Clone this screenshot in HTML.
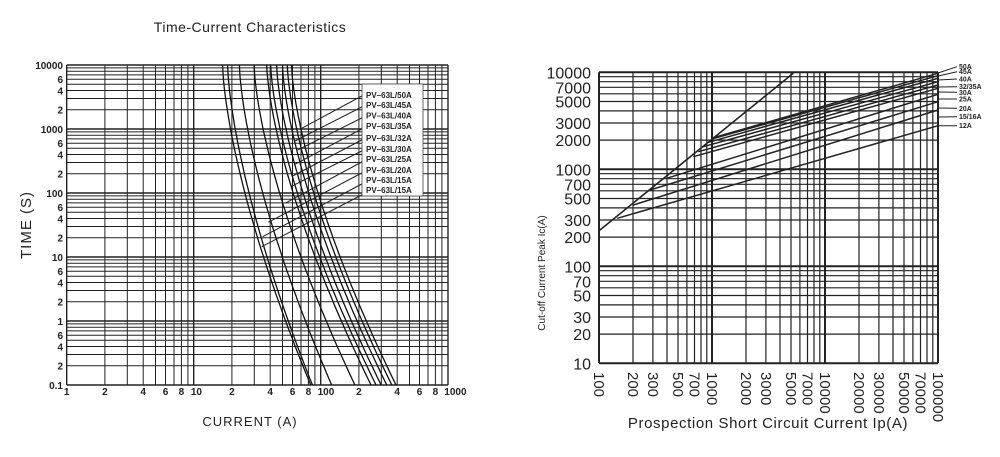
<!DOCTYPE html>
<html><head><meta charset="utf-8"><style>
html,body{margin:0;padding:0;background:#fff;}
svg{display:block;font-family:"Liberation Sans",sans-serif;}
</style></head><body>
<svg id="s" width="1000" height="457" viewBox="0 0 1000 457" xmlns="http://www.w3.org/2000/svg">
<rect width="1000" height="457" fill="#fff"/>
<text x="250" y="32" font-size="14" text-anchor="middle" fill="#222" letter-spacing="0.5">Time-Current Characteristics</text>
<text x="250" y="426" font-size="13" text-anchor="middle" fill="#222" letter-spacing="1">CURRENT (A)</text>
<text transform="translate(31,225) rotate(-90)" font-size="15" text-anchor="middle" fill="#222" letter-spacing="1">TIME (S)</text>
<text transform="translate(545,273) rotate(-90)" font-size="10" text-anchor="middle" fill="#222">Cut-off Current Peak Ic(A)</text>
<text x="768" y="428" font-size="15" text-anchor="middle" fill="#222" letter-spacing="0.6">Prospection Short Circuit Current Ip(A)</text>
<g id="g"></g>
</svg>
<script>
var g=document.getElementById('g'),h='';
function L(x1,y1,x2,y2,w){h+='<line x1="'+x1.toFixed(1)+'" y1="'+y1.toFixed(1)+'" x2="'+x2.toFixed(1)+'" y2="'+y2.toFixed(1)+'" stroke="#222" stroke-width="'+(w||1)+'"/>';}
function T(x,y,s,fs,a,extra){h+='<text x="'+x+'" y="'+y+'" font-size="'+fs+'" text-anchor="'+(a||'middle')+'" fill="#222" '+(extra||'')+'>'+s+'</text>';}
// LEFT chart
var x0=66.7,px=127,y0=65,py=64;
function LX(i){return x0+px*Math.log10(i);} function LY(t){return y0+py*(4-Math.log10(t));}
for(var d=-1;d<4;d++)for(var m=1;m<10;m++){var v=m*Math.pow(10,d);L(x0,LY(v),448,LY(v),m==1?1.4:1);}
L(x0,LY(10000),448,LY(10000),1.4);
for(var d=0;d<3;d++)for(var m=1;m<10;m++){var v=m*Math.pow(10,d);L(LX(v),65,LX(v),385,m==1?1.4:1);}
L(448,65,448,385,1.4);
var yl=[['10000',10000],['6',6000],['4',4000],['2',2000],['1000',1000],['6',600],['4',400],['2',200],['100',100],['6',60],['4',40],['2',20],['10',10],['6',6],['4',4],['2',2],['1',1],['6',.6],['4',.4],['2',.2],['0.1',.1]];
yl.forEach(function(a){T(63,LY(a[1])+4,a[0],10,'end','font-weight="bold"');});
var xl=[['1',1],['2',2],['4',4],['6',6],['8',8],['10',10.5],['2',20],['4',40],['6',60],['8',80],['100',110],['2',200],['4',400],['6',600],['8',800],['1000',1150]];
xl.forEach(function(a){T(LX(a[1]),395,a[0],10,'middle','font-weight="bold"');});
var tops=[16.9,18.5,22.9,29.9,37.6,40.4,45,50,54.6,59],bots=[83.4,86,122,186,249,273,299,331,363,392];
for(var k=0;k<10;k++){var a=Math.log10(tops[k]),b=Math.log10(bots[k]),p='';
 for(var u=0;u<=1.001;u+=0.02){var x=LX(Math.pow(10,a+(b-a)*Math.pow(u,1.5))),y=y0+u*320;p+=(u==0?'M':'L')+x.toFixed(1)+','+y.toFixed(1);}
 h+='<path d="'+p+'" fill="none" stroke="#111" stroke-width="1.3"/>';}
h+='<rect x="362" y="84" width="61" height="112" fill="#fff" stroke="#444" stroke-width="0.8"/>';
var labs=['50A','45A','40A','35A','32A','30A','25A','20A','15A','15A'],ly=[95,105,115.7,126,138,149,159,170,180,190];
var ends=[[905,235],[885,273],[893,300],[885,343],[878,378],[872,410],[855,460],[805,517],[788,560],[785,590]];
for(var k=0;k<10;k++){T(366,ly[k]+3,'PV–63L/'+labs[k],8,'start','font-weight="bold"');L(361.7,95+11*k+1,ends[k][0]/3,50+ends[k][1]/3,1);}
// RIGHT chart
var rx0=599,rpx=113,ry0=72.3,rpy=97;
function RX(i){return rx0+rpx*(Math.log10(i)-2);} function RY(v){return ry0+rpy*(4-Math.log10(v));}
for(var d=1;d<4;d++)for(var m=1;m<10;m++){var v=m*Math.pow(10,d);L(rx0,RY(v),938,RY(v),m==1?2:1.2);}
L(rx0,RY(10000),938,RY(10000),2);
for(var d=2;d<5;d++)for(var m=1;m<10;m++){var v=m*Math.pow(10,d);L(RX(v),72.3,RX(v),363,m==1?2:1.2);}
L(938,72.3,938,363,2);
[10000,7000,5000,3000,2000,1000,700,500,300,200,100,70,50,30,20,10].forEach(function(v){T(591,RY(v)+6,v,16,'end');});
[100,200,300,500,700,1000,2000,3000,5000,7000,10000,20000,30000,50000,70000,100000].forEach(function(v){h+='<text transform="translate('+(RX(v)-5).toFixed(1)+',372) rotate(90)" font-size="15" fill="#222">'+v+'</text>';});
L(599,230.7,793.3,73.3,1.6);
var st=[[550,248],[545,252],[535,262],[520,275],[505,290],[490,305],[410,370],[360,405],[310,450],[262,490]],
 en=[55,62,70,78,88,100,115,135,165,190,212];
var en2=[55,62,70,80,90,100,118,140,165,212];
for(var k=0;k<10;k++){L(530+st[k][0]/3,55+st[k][1]/3,938,55+en2[k]/3,1.5);}
var rl=['50A','45A','40A','32/35A','30A','25A','20A','15/16A','12A'],ry=[66.7,71.7,79,86.7,92.3,99,108.3,116.7,125.7],re=[73,76,80,87,92,99,108,117,125.7];
for(var k=0;k<9;k++){L(938,re[k],957,ry[k],1);T(959,ry[k]+2.5,rl[k],7,'start','font-weight="bold"');}
g.innerHTML=h;
</script>
</body></html>
